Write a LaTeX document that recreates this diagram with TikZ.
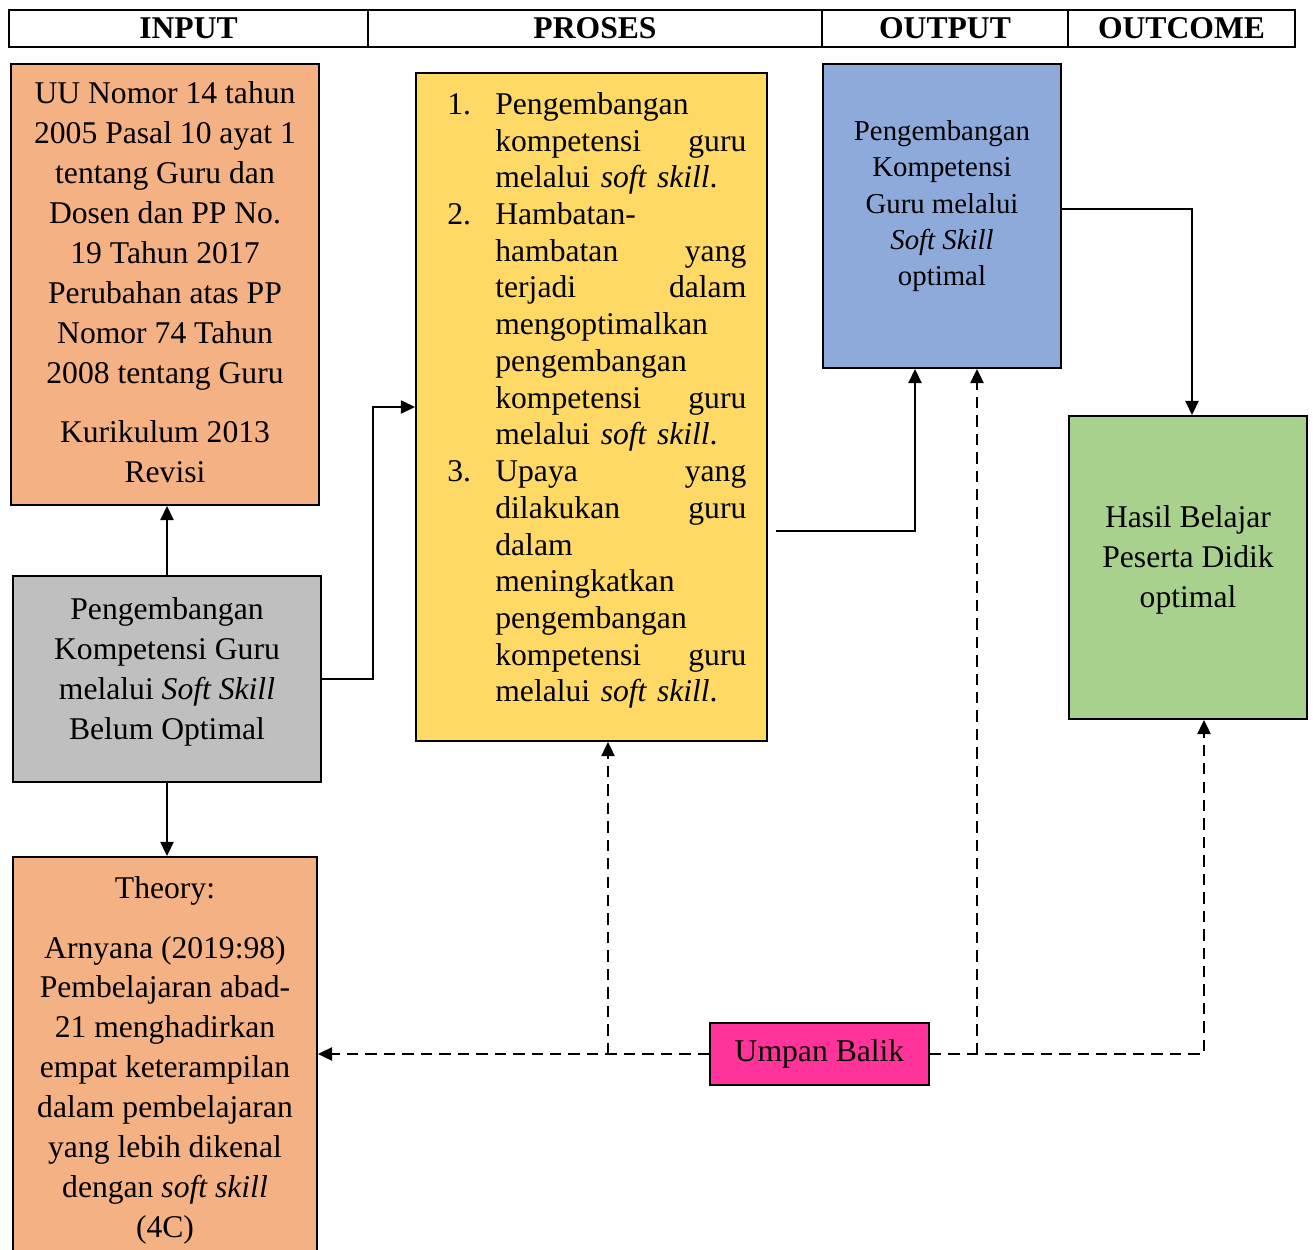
\documentclass[tikz,border=0pt]{standalone}
\usepackage{fontspec}
\setmainfont{Liberation Serif}
\usetikzlibrary{arrows.meta}
\definecolor{oranye}{HTML}{F4B183}
\definecolor{abu}{HTML}{BFBFBF}
\definecolor{kuning}{HTML}{FFD966}
\definecolor{biru}{HTML}{8EAADB}
\definecolor{hijau}{HTML}{A9D18E}
\definecolor{merahmuda}{HTML}{FF3399}
\newcommand{\nomor}[1]{\makebox[0.96cm][l]{#1}}
\newcommand{\menjorok}{\hspace*{0.96cm}}
\newcommand{\rata}[2]{\makebox[5.02cm][s]{#1\hfill #2}}
\begin{document}
\begin{tikzpicture}[>={Triangle[length=8pt,width=7.5pt]},
    box/.style={draw, line width=1.1pt, inner sep=0pt},
    kepala/.style={draw, line width=1.1pt, inner sep=0pt, minimum height=0.74cm,
      font=\fontsize{18}{22}\selectfont\bfseries},
    txt/.style={inner sep=0pt, align=center, font=\fontsize{18}{22.7}\selectfont},
    fb/.style={line width=1pt, dash pattern=on 6.5pt off 4pt}]
      \clip (0,0) rectangle (26.26,-25);
      % header row
      \node[kepala, minimum width=7.18cm] (kinput) at (3.77,-0.57) {INPUT};
      \node[kepala, minimum width=9.08cm] (kproses) at (11.90,-0.57) {PROSES};
      \node[kepala, minimum width=4.92cm] (koutput) at (18.90,-0.57) {OUTPUT};
      \node[kepala, minimum width=4.54cm] (koutcome) at (23.63,-0.57) {OUTCOME};
      % boxes
      \node[box, fill=oranye, minimum width=6.16cm, minimum height=8.82cm] (hukum) at (3.30,-5.69) {};
      \node[box, fill=abu, minimum width=6.16cm, minimum height=4.12cm] (mulai) at (3.34,-13.58) {};
      \node[box, fill=oranye, minimum width=6.08cm, minimum height=8.16cm] (teori) at (3.30,-21.22) {};
      \node[box, fill=kuning, minimum width=7.02cm, minimum height=13.36cm] (proses) at (11.83,-8.14) {};
      \node[box, fill=biru, minimum width=4.76cm, minimum height=6.08cm] (output) at (18.84,-4.32) {};
      \node[box, fill=hijau, minimum width=4.76cm, minimum height=6.06cm] (outcome) at (23.76,-11.35) {};
      \node[box, fill=merahmuda, minimum width=4.38cm, minimum height=1.24cm,
        font=\fontsize{18}{22}\selectfont] (umpan) at (16.39,-21.08) {Umpan Balik};
      % texts
      \node[txt, anchor=north] (thukum) at (3.30,-1.63) {UU Nomor 14 tahun\\ 2005 Pasal 10 ayat 1\\
        tentang Guru dan\\ Dosen dan PP No.\\ 19 Tahun 2017\\ Perubahan atas PP\\
        Nomor 74 Tahun\\ 2008 tentang Guru\\[11.3pt] Kurikulum 2013\\ Revisi};
      \node[txt] (tmulai) at (3.34,-13.44) {Pengembangan\\ Kompetensi Guru\\
        melalui \textit{Soft Skill}\\ Belum Optimal};
      \node[txt, anchor=north] (tteori) at (3.30,-17.52) {Theory:\\[11.3pt] Arnyana (2019:98)\\
        Pembelajaran abad-\\ 21 menghadirkan\\ empat keterampilan\\ dalam pembelajaran\\
        yang lebih dikenal\\ dengan \textit{soft skill}\\ (4C)};
      \node[txt, align=left, text width=6cm, anchor=north west,
        font=\fontsize{18}{20.9}\selectfont] (tproses) at (8.94,-1.84) {%
        \nomor{1.}Pengembangan\\
        \menjorok\rata{kompetensi}{guru}\\
        \menjorok melalui \textit{soft skill}.\\
        \nomor{2.}Hambatan-\\
        \menjorok\rata{hambatan}{yang}\\
        \menjorok\rata{terjadi}{dalam}\\
        \menjorok mengoptimalkan\\
        \menjorok pengembangan\\
        \menjorok\rata{kompetensi}{guru}\\
        \menjorok melalui \textit{soft skill}.\\
        \nomor{3.}\rata{Upaya}{yang}\\
        \menjorok\rata{dilakukan}{guru}\\
        \menjorok dalam\\
        \menjorok meningkatkan\\
        \menjorok pengembangan\\
        \menjorok\rata{kompetensi}{guru}\\
        \menjorok melalui \textit{soft skill}.};
      \node[txt, anchor=north, font=\fontsize{16.4}{20.7}\selectfont] (toutput) at (18.84,-2.40)
        {Pengembangan\\ Kompetensi\\ Guru melalui\\ \textit{Soft Skill}\\ optimal};
      \node[txt] (toutcome) at (23.76,-11.20) {Hasil Belajar\\ Peserta Didik\\ optimal};
      % connectors
      \draw[->, line width=0.8pt] (mulai.north) -- (mulai.north |- hukum.south);
      \draw[->, line width=0.8pt] (mulai.south) -- (mulai.south |- teori.north);
      \draw[->, line width=0.7pt] (mulai.east) -- ++(1.02,0) |- (proses.west);
      \draw[->, line width=0.8pt] ([shift={(0.16,-2.48)}]proses.east) -| ([xshift=-0.54cm]output.south);
      \draw[->, line width=0.8pt] ([yshift=0.14cm]output.east) -| ([xshift=0.08cm]outcome.north);
      % feedback
      \draw[fb, ->] (umpan.west) -- (umpan.west -| teori.east);
      \draw[fb, ->] ([xshift=0.33cm]proses.south |- umpan.west) -- ([xshift=0.33cm]proses.south);
      \draw[fb, ->] (umpan.east) -| ([xshift=0.32cm]outcome.south);
      \draw[fb, ->] ([xshift=0.70cm]output.south |- umpan.east) -- ([xshift=0.70cm]output.south);
\end{tikzpicture}
\end{document}
